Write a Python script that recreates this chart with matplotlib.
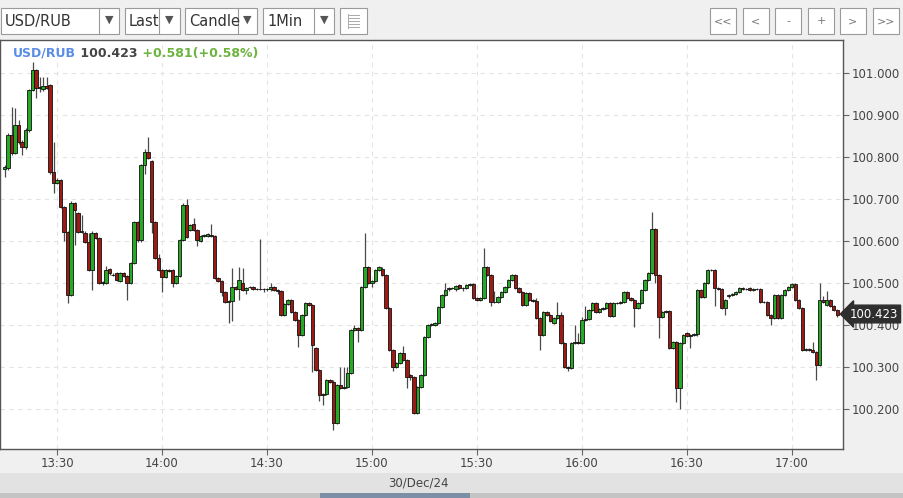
import numpy as np
import pandas as pd
import matplotlib
matplotlib.use("Agg")
import matplotlib.pyplot as plt
import matplotlib.dates as mdates
from matplotlib.patches import Rectangle

# 1-minute candles, 30/Dec/24, 13:15 .. 17:13
start_time = "2024-12-30 13:15"

opens = [
    100.772, 100.774, 100.852, 100.810, 100.876, 100.836, 100.824, 100.864, 100.960, 101.007,
    100.964, 100.962, 100.970, 100.971, 100.764, 100.738, 100.745, 100.681, 100.621, 100.471,
    100.690, 100.667, 100.621, 100.620, 100.598, 100.531, 100.619, 100.607, 100.500, 100.500,
    100.533, 100.520, 100.524, 100.505, 100.524, 100.517, 100.500, 100.548, 100.645, 100.602,
    100.781, 100.812, 100.790, 100.645, 100.560, 100.531, 100.514, 100.531, 100.531, 100.500,
    100.517, 100.602, 100.686, 100.626, 100.640, 100.626, 100.600, 100.612, 100.612, 100.614,
    100.612, 100.512, 100.505, 100.479, 100.455, 100.457, 100.490, 100.486, 100.500, 100.483,
    100.490, 100.490, 100.486, 100.486, 100.486, 100.486, 100.485, 100.490, 100.483, 100.481,
    100.424, 100.450, 100.460, 100.431, 100.412, 100.376, 100.424, 100.452, 100.448, 100.345,
    100.293, 100.233, 100.236, 100.269, 100.265, 100.167, 100.257, 100.250, 100.252, 100.286,
    100.388, 100.393, 100.388, 100.490, 100.538, 100.500, 100.505, 100.531, 100.534, 100.519,
    100.440, 100.340, 100.300, 100.310, 100.333, 100.317, 100.280, 100.276, 100.190, 100.252,
    100.281, 100.371, 100.400, 100.400, 100.405, 100.443, 100.471, 100.485, 100.488, 100.485,
    100.495, 100.488, 100.488, 100.495, 100.497, 100.464, 100.460, 100.464, 100.538, 100.519,
    100.455, 100.455, 100.467, 100.479, 100.490, 100.507, 100.519, 100.488, 100.479, 100.448,
    100.476, 100.460, 100.458, 100.417, 100.376, 100.431, 100.424, 100.405, 100.417, 100.424,
    100.357, 100.300, 100.298, 100.357, 100.360, 100.357, 100.412, 100.414, 100.436, 100.452,
    100.431, 100.438, 100.440, 100.452, 100.421, 100.452, 100.452, 100.455, 100.479, 100.464,
    100.460, 100.440, 100.452, 100.483, 100.507, 100.524, 100.629, 100.519, 100.419, 100.431,
    100.433, 100.345, 100.360, 100.250, 100.357, 100.380, 100.374, 100.376, 100.378, 100.483,
    100.467, 100.500, 100.531, 100.531, 100.488, 100.486, 100.440, 100.468, 100.471, 100.474,
    100.479, 100.488, 100.486, 100.488, 100.484, 100.486, 100.486, 100.455, 100.455, 100.424,
    100.417, 100.471, 100.417, 100.471, 100.483, 100.490, 100.498, 100.460, 100.440, 100.340,
    100.342, 100.340, 100.336, 100.305, 100.460, 100.448, 100.460, 100.445, 100.436,
]

closes = [
    100.776, 100.852, 100.810, 100.876, 100.836, 100.824, 100.864, 100.960, 101.007, 100.964,
    100.967, 100.970, 100.965, 100.764, 100.738, 100.745, 100.681, 100.621, 100.471, 100.690,
    100.674, 100.621, 100.624, 100.598, 100.531, 100.619, 100.607, 100.500, 100.502, 100.531,
    100.524, 100.520, 100.507, 100.524, 100.517, 100.500, 100.548, 100.645, 100.602, 100.781,
    100.812, 100.798, 100.645, 100.560, 100.531, 100.514, 100.531, 100.529, 100.500, 100.517,
    100.602, 100.686, 100.610, 100.638, 100.626, 100.602, 100.612, 100.614, 100.616, 100.612,
    100.512, 100.505, 100.479, 100.455, 100.457, 100.490, 100.486, 100.507, 100.483, 100.488,
    100.490, 100.486, 100.486, 100.486, 100.486, 100.485, 100.490, 100.483, 100.481, 100.424,
    100.450, 100.460, 100.431, 100.412, 100.376, 100.424, 100.452, 100.448, 100.352, 100.293,
    100.233, 100.236, 100.269, 100.265, 100.167, 100.257, 100.250, 100.252, 100.286, 100.388,
    100.393, 100.388, 100.490, 100.538, 100.500, 100.505, 100.531, 100.538, 100.519, 100.440,
    100.340, 100.300, 100.310, 100.333, 100.317, 100.276, 100.276, 100.190, 100.252, 100.281,
    100.371, 100.400, 100.402, 100.405, 100.443, 100.471, 100.483, 100.488, 100.488, 100.493,
    100.488, 100.488, 100.495, 100.497, 100.464, 100.460, 100.464, 100.538, 100.519, 100.455,
    100.455, 100.467, 100.479, 100.490, 100.507, 100.519, 100.488, 100.479, 100.448, 100.476,
    100.460, 100.458, 100.417, 100.376, 100.431, 100.424, 100.410, 100.417, 100.424, 100.357,
    100.300, 100.298, 100.357, 100.360, 100.357, 100.412, 100.414, 100.436, 100.452, 100.431,
    100.438, 100.440, 100.452, 100.421, 100.452, 100.452, 100.455, 100.479, 100.464, 100.460,
    100.440, 100.452, 100.483, 100.507, 100.524, 100.629, 100.519, 100.419, 100.431, 100.433,
    100.345, 100.360, 100.250, 100.357, 100.376, 100.374, 100.376, 100.378, 100.483, 100.467,
    100.500, 100.531, 100.531, 100.488, 100.486, 100.440, 100.460, 100.471, 100.474, 100.479,
    100.488, 100.486, 100.486, 100.484, 100.486, 100.486, 100.455, 100.455, 100.424, 100.417,
    100.471, 100.417, 100.471, 100.483, 100.490, 100.498, 100.460, 100.440, 100.340, 100.342,
    100.340, 100.336, 100.305, 100.460, 100.455, 100.460, 100.445, 100.436, 100.423,
]

highs = [
    100.780, 100.858, 100.919, 100.917, 100.888, 100.840, 100.870, 100.962, 101.026, 101.010,
    100.990, 100.990, 100.990, 100.975, 100.836, 100.750, 100.748, 100.684, 100.624, 100.695,
    100.693, 100.670, 100.662, 100.625, 100.620, 100.624, 100.622, 100.610, 100.505, 100.540,
    100.536, 100.524, 100.527, 100.527, 100.527, 100.520, 100.551, 100.648, 100.648, 100.784,
    100.820, 100.848, 100.793, 100.648, 100.570, 100.534, 100.534, 100.534, 100.534, 100.520,
    100.605, 100.690, 100.700, 100.641, 100.655, 100.629, 100.615, 100.617, 100.619, 100.640,
    100.615, 100.515, 100.508, 100.482, 100.460, 100.536, 100.493, 100.538, 100.535, 100.491,
    100.493, 100.493, 100.489, 100.605, 100.489, 100.489, 100.500, 100.493, 100.486, 100.484,
    100.453, 100.463, 100.463, 100.434, 100.415, 100.427, 100.455, 100.455, 100.451, 100.348,
    100.296, 100.239, 100.272, 100.272, 100.268, 100.260, 100.300, 100.300, 100.300, 100.391,
    100.400, 100.396, 100.493, 100.619, 100.541, 100.508, 100.534, 100.541, 100.537, 100.522,
    100.443, 100.343, 100.313, 100.336, 100.350, 100.320, 100.283, 100.279, 100.255, 100.284,
    100.374, 100.403, 100.405, 100.408, 100.446, 100.474, 100.500, 100.491, 100.491, 100.496,
    100.498, 100.491, 100.498, 100.500, 100.500, 100.467, 100.467, 100.583, 100.541, 100.522,
    100.480, 100.470, 100.482, 100.493, 100.510, 100.522, 100.522, 100.491, 100.482, 100.479,
    100.479, 100.463, 100.465, 100.420, 100.434, 100.434, 100.427, 100.420, 100.455, 100.430,
    100.360, 100.303, 100.360, 100.400, 100.380, 100.420, 100.445, 100.439, 100.455, 100.455,
    100.441, 100.443, 100.455, 100.455, 100.455, 100.455, 100.458, 100.482, 100.482, 100.467,
    100.463, 100.455, 100.486, 100.510, 100.527, 100.669, 100.632, 100.522, 100.434, 100.436,
    100.436, 100.363, 100.363, 100.360, 100.379, 100.383, 100.379, 100.381, 100.486, 100.486,
    100.503, 100.534, 100.534, 100.534, 100.491, 100.489, 100.463, 100.474, 100.477, 100.482,
    100.491, 100.491, 100.489, 100.491, 100.489, 100.489, 100.489, 100.458, 100.458, 100.427,
    100.474, 100.474, 100.474, 100.486, 100.493, 100.501, 100.501, 100.463, 100.443, 100.345,
    100.345, 100.360, 100.339, 100.500, 100.470, 100.480, 100.463, 100.448, 100.439,
]

lows = [
    100.752, 100.770, 100.805, 100.808, 100.830, 100.805, 100.820, 100.860, 100.958, 100.940,
    100.955, 100.958, 100.962, 100.760, 100.714, 100.735, 100.678, 100.600, 100.452, 100.468,
    100.590, 100.618, 100.618, 100.595, 100.528, 100.483, 100.604, 100.497, 100.495, 100.498,
    100.520, 100.516, 100.504, 100.502, 100.514, 100.460, 100.497, 100.545, 100.598, 100.598,
    100.760, 100.795, 100.620, 100.557, 100.528, 100.479, 100.511, 100.526, 100.490, 100.497,
    100.514, 100.600, 100.607, 100.623, 100.623, 100.588, 100.597, 100.609, 100.609, 100.609,
    100.509, 100.502, 100.470, 100.452, 100.405, 100.410, 100.483, 100.460, 100.480, 100.475,
    100.487, 100.483, 100.483, 100.483, 100.478, 100.482, 100.482, 100.480, 100.475, 100.421,
    100.421, 100.447, 100.428, 100.409, 100.348, 100.373, 100.421, 100.445, 100.288, 100.290,
    100.220, 100.210, 100.233, 100.262, 100.150, 100.164, 100.247, 100.247, 100.249, 100.283,
    100.385, 100.360, 100.385, 100.487, 100.497, 100.490, 100.502, 100.528, 100.516, 100.437,
    100.337, 100.290, 100.297, 100.307, 100.314, 100.250, 100.270, 100.187, 100.187, 100.249,
    100.278, 100.368, 100.397, 100.397, 100.402, 100.440, 100.468, 100.482, 100.485, 100.482,
    100.485, 100.480, 100.485, 100.492, 100.461, 100.457, 100.457, 100.461, 100.516, 100.445,
    100.452, 100.452, 100.464, 100.476, 100.487, 100.504, 100.485, 100.476, 100.445, 100.445,
    100.457, 100.455, 100.414, 100.340, 100.373, 100.421, 100.407, 100.402, 100.414, 100.354,
    100.297, 100.290, 100.295, 100.354, 100.354, 100.354, 100.409, 100.411, 100.433, 100.428,
    100.428, 100.435, 100.437, 100.418, 100.418, 100.449, 100.449, 100.452, 100.461, 100.457,
    100.395, 100.437, 100.449, 100.480, 100.504, 100.521, 100.500, 100.370, 100.416, 100.428,
    100.342, 100.342, 100.217, 100.200, 100.354, 100.371, 100.345, 100.373, 100.375, 100.464,
    100.464, 100.497, 100.528, 100.445, 100.483, 100.437, 100.425, 100.465, 100.468, 100.471,
    100.476, 100.483, 100.483, 100.481, 100.481, 100.483, 100.452, 100.452, 100.421, 100.400,
    100.414, 100.414, 100.414, 100.468, 100.480, 100.487, 100.457, 100.437, 100.337, 100.337,
    100.337, 100.333, 100.270, 100.302, 100.452, 100.445, 100.442, 100.433, 100.420,
]

last_price = "100.423"
change_text = "+0.581(+0.58%)"
y_ticks = [100.2, 100.3, 100.4, 100.5, 100.6, 100.7, 100.8, 100.9, 101.0]

o = np.array(opens)
c = np.array(closes)
h = np.array(highs)
l = np.array(lows)
times = pd.date_range(start_time, periods=len(c), freq="min")
x = mdates.date2num(times)
one_min = 1.0 / 1440

W, H = 904, 498
fig = plt.figure(figsize=(W / 100, H / 100), dpi=100, facecolor="#f0f0f0")

# main chart area: pixels x 0..843, y 40..449
ax = fig.add_axes([0, (H - 449) / H, 843 / W, 409 / H])
ax.set_facecolor("white")

up = c >= o
body_col = np.where(up, "#26aa26", "#9e1a14")
ax.vlines(x, l, h, color="#4a4a4a", linewidth=0.9, zorder=2)
ax.bar(x, c - o, bottom=o, width=0.9 * one_min, color=body_col,
       edgecolor="#111111", linewidth=0.6, zorder=3)

ax.set_xlim(x[0] - 1.3 * one_min, x[0] + 239.6 * one_min)
ax.set_ylim(100.1048, 101.0786)
ax.set_yticks(y_ticks)
ax.yaxis.set_major_formatter(matplotlib.ticker.FormatStrFormatter("%.3f"))
ax.yaxis.tick_right()
ax.xaxis.set_major_locator(mdates.MinuteLocator(byminute=[0, 30]))
ax.xaxis.set_major_formatter(mdates.DateFormatter("%H:%M"))
ax.tick_params(axis="both", direction="out", length=4, width=0.8, color="#666666",
               labelcolor="#444444", labelsize=8.5, pad=2)
ax.grid(True, color="#e4e4e4", linestyle=(0, (4, 4)), linewidth=0.8, zorder=0)
for side in ["top", "right", "left", "bottom"]:
    ax.spines[side].set_color("#555555")
    ax.spines[side].set_linewidth(1.0)

# overlay in pixel coordinates for the widget chrome
ov = fig.add_axes([0, 0, 1, 1], zorder=5)
ov.set_xlim(0, W)
ov.set_ylim(H, 0)
ov.axis("off")
ov.patch.set_alpha(0)

# header inside chart
t1 = ov.text(13, 53, "USD/RUB", color="#5b8de6", fontsize=9, weight="bold",
             ha="left", va="center")
t2 = ov.annotate(" " + last_price, xy=(1, 0), xycoords=t1, ha="left", va="bottom",
                 color="#444444", fontsize=9, weight="bold")
ov.annotate(" " + change_text, xy=(1, 0), xycoords=t2, ha="left", va="bottom",
            color="#6db33f", fontsize=9, weight="bold")

# last price tag
ov.text(874, 314, last_price, color="white", fontsize=8.5, ha="center", va="center",
        bbox=dict(boxstyle="larrow,pad=0.2", fc="#2e2e2e", ec="#2e2e2e"))

# toolbar dropdowns
dropdowns = [("USD/RUB", 1, 119, 99), ("Last", 125, 180, 159),
             ("Candle", 185, 257, 238), ("1Min", 263, 334, 314)]
for label, x0, x1, sep in dropdowns:
    ov.add_patch(Rectangle((x0, 8), x1 - x0, 26, fc="white", ec="#9a9a9a", lw=0.8))
    ov.plot([sep, sep], [8, 34], color="#9a9a9a", lw=0.8)
    ov.text(x0 + 4, 21.5, label, fontsize=10.5, color="#333333", ha="left", va="center",
            clip_on=True)
    ov.text((sep + x1) / 2, 20, "\u25BC", fontsize=8, color="#555555",
            ha="center", va="center")
ov.add_patch(Rectangle((340, 8), 27, 26, fc="white", ec="#9a9a9a", lw=0.8))
for yy in [15, 18, 21, 24, 27]:
    ov.plot([349, 359], [yy, yy], color="#aaaaaa", lw=0.7)
ov.plot([348, 348], [14, 28], color="#aaaaaa", lw=0.7)

buttons = [("<<", 710), ("<", 743), ("-", 775), ("+", 808), (">", 840), (">>", 873)]
for label, x0 in buttons:
    ov.add_patch(Rectangle((x0, 8), 26, 26, fc="white", ec="#9a9a9a", lw=0.8))
    ov.text(x0 + 13, 21, label, fontsize=8, color="#777777", ha="center", va="center")

# date band and scroll strip
ov.add_patch(Rectangle((0, 473), W, 20, fc="#e2e2e2", ec="none"))
ov.text(418, 483, "30/Dec/24", fontsize=8.5, color="#444444", ha="center", va="center")
ov.add_patch(Rectangle((0, 493), W, 5, fc="#c4c4c4", ec="none"))
ov.add_patch(Rectangle((320, 493), 150, 5, fc="#7d8fa6", ec="none"))

fig.savefig("out.png", dpi=100, facecolor=fig.get_facecolor())
